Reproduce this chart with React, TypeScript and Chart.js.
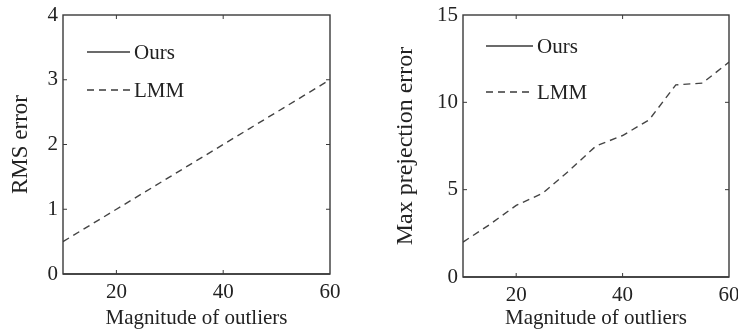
import React, { useEffect, useRef } from "react";
import { Chart, registerables } from "chart.js";

Chart.register(...registerables);

// ---- data ----
const magnitudes = [10, 15, 20, 25, 30, 35, 40, 45, 50, 55, 60];
const rmsOurs = [0, 0, 0, 0, 0, 0, 0, 0, 0, 0, 0];
const rmsLMM = [0.5, 0.75, 1.0, 1.25, 1.5, 1.75, 2.0, 2.25, 2.5, 2.75, 3.0];
const maxOurs = [0, 0, 0, 0, 0, 0, 0, 0, 0, 0, 0];
const maxLMM = [2.0, 3.0, 4.1, 4.8, 6.1, 7.5, 8.1, 9.0, 11.0, 11.1, 12.3];
const xTickValues = [20, 40, 60];
const rmsTickValues = [0, 1, 2, 3, 4];
const maxTickValues = [0, 5, 10, 15];
const seriesNames = ["Ours", "LMM"];
const xTitle = "Magnitude of outliers";
const rmsTitle = "RMS error";
const maxTitle = "Max prejection error";

const FONT = "'Liberation Serif', 'Times New Roman', serif";
const TEXT = "#222";
const LINE = "#3a3a3a";

type PanelProps = {
  width: number;
  height: number;
  plotLeft: number;
  plotRight: number;
  plotTop: number;
  plotBottom: number;
  yTitlePad: number;
  yTitleSize: number;
  yMax: number;
  yTicks: number[];
  yTitle: string;
  ours: number[];
  lmm: number[];
  legendX0: number;
  legendX1: number;
  legendY: number[];
};

function Panel(p: PanelProps) {
  const ref = useRef<HTMLCanvasElement | null>(null);
  useEffect(() => {
    const canvas = ref.current;
    if (!canvas) return;
    const frame = {
      id: "frameTicksLegend",
      afterDatasetsDraw(chart: any) {
        const { ctx, chartArea } = chart;
        const xs = chart.scales.x;
        const ys = chart.scales.y;
        ctx.save();
        ctx.strokeStyle = LINE;
        ctx.lineWidth = 1.4;
        ctx.setLineDash([]);
        ctx.strokeRect(chartArea.left, chartArea.top, chartArea.right - chartArea.left, chartArea.bottom - chartArea.top);
        const tl = 4;
        ctx.lineWidth = 1;
        ctx.beginPath();
        for (const v of p.yTicks) {
          const y = ys.getPixelForValue(v);
          if (Math.abs(y - chartArea.top) < 1 || Math.abs(y - chartArea.bottom) < 1) continue;
          ctx.moveTo(chartArea.left, y);
          ctx.lineTo(chartArea.left + tl, y);
          ctx.moveTo(chartArea.right, y);
          ctx.lineTo(chartArea.right - tl, y);
        }
        for (const v of xTickValues) {
          const x = xs.getPixelForValue(v);
          if (Math.abs(x - chartArea.left) < 1 || Math.abs(x - chartArea.right) < 1) continue;
          ctx.moveTo(x, chartArea.bottom);
          ctx.lineTo(x, chartArea.bottom - tl);
          ctx.moveTo(x, chartArea.top);
          ctx.lineTo(x, chartArea.top + tl);
        }
        ctx.stroke();
        // legend
        ctx.font = `21px ${FONT}`;
        ctx.fillStyle = TEXT;
        ctx.textBaseline = "middle";
        ctx.textAlign = "left";
        seriesNames.forEach((name, i) => {
          const y = p.legendY[i];
          ctx.beginPath();
          ctx.strokeStyle = LINE;
          ctx.lineWidth = 1.4;
          ctx.setLineDash(i === 1 ? [7, 5] : []);
          ctx.moveTo(p.legendX0, y);
          ctx.lineTo(p.legendX1, y);
          ctx.stroke();
          ctx.setLineDash([]);
          ctx.fillText(name, p.legendX1 + 4, y + 1);
        });
        ctx.restore();
      },
    };
    const chart = new Chart(canvas, {
      type: "line",
      data: {
        datasets: [
          {
            label: seriesNames[0],
            data: magnitudes.map((x, i) => ({ x, y: p.ours[i] })),
            borderColor: LINE,
            borderWidth: 1.6,
            pointRadius: 0,
            fill: false,
            clip: false as any,
          },
          {
            label: seriesNames[1],
            data: magnitudes.map((x, i) => ({ x, y: p.lmm[i] })),
            borderColor: "#444",
            borderWidth: 1.4,
            borderDash: [7, 5],
            pointRadius: 0,
            fill: false,
          },
        ],
      },
      options: {
        animation: false,
        responsive: false,
        maintainAspectRatio: false,
        events: [],
        layout: {
          padding: { top: p.plotTop, right: p.width - p.plotRight, bottom: 0, left: 0 },
        },
        plugins: { legend: { display: false }, tooltip: { enabled: false } },
        scales: {
          x: {
            type: "linear",
            min: 10,
            max: 60,
            afterBuildTicks: (s: any) => {
              s.ticks = xTickValues.map((v) => ({ value: v }));
            },
            afterFit: (s: any) => {
              s.height = p.height - p.plotBottom;
              s.paddingLeft = 0;
              s.paddingRight = 0;
            },
            grid: { display: false, drawTicks: false },
            border: { display: false },
            ticks: {
              color: TEXT,
              font: { family: FONT, size: 21 },
              padding: 6,
              maxRotation: 0,
              autoSkip: false,
            },
            title: {
              display: true,
              text: xTitle,
              color: TEXT,
              font: { family: FONT, size: 21, lineHeight: 1.0 },
              padding: { top: 0, bottom: 0 },
            },
          },
          y: {
            type: "linear",
            min: 0,
            max: p.yMax,
            afterBuildTicks: (s: any) => {
              s.ticks = p.yTicks.map((v) => ({ value: v }));
            },
            afterFit: (s: any) => {
              s.width = p.plotLeft;
              s.paddingTop = 0;
              s.paddingBottom = 0;
            },
            grid: { display: false, drawTicks: false },
            border: { display: false },
            ticks: {
              color: TEXT,
              font: { family: FONT, size: 21 },
              padding: 5,
              autoSkip: false,
            },
            title: {
              display: true,
              text: p.yTitle,
              color: TEXT,
              font: { family: FONT, size: p.yTitleSize, lineHeight: 1.2 },
              padding: { top: p.yTitlePad, bottom: 0 },
            },
          },
        },
      },
      plugins: [frame],
    });
    return () => chart.destroy();
  }, []);
  return (
    <div style={{ width: p.width, height: p.height, position: "relative" }}>
      <canvas ref={ref} width={p.width} height={p.height} style={{ width: p.width, height: p.height, display: "block" }} />
    </div>
  );
}

export default function App() {
  return (
    <div style={{ position: "fixed", left: 0, top: 0, width: 738, height: 329, display: "flex", background: "#fff" }}>
      <Panel
        width={370}
        height={329}
        plotLeft={63}
        plotRight={330}
        plotTop={15}
        plotBottom={274}
        yTitlePad={7}
        yTitleSize={23}
        yMax={4}
        yTicks={rmsTickValues}
        yTitle={rmsTitle}
        ours={rmsOurs}
        lmm={rmsLMM}
        legendX0={87}
        legendX1={130}
        legendY={[52, 90]}
      />
      <Panel
        width={368}
        height={329}
        plotLeft={93}
        plotRight={359}
        plotTop={15}
        plotBottom={277}
        yTitlePad={21}
        yTitleSize={24}
        yMax={15}
        yTicks={maxTickValues}
        yTitle={maxTitle}
        ours={maxOurs}
        lmm={maxLMM}
        legendX0={116}
        legendX1={163}
        legendY={[46, 92]}
      />
    </div>
  );
}
